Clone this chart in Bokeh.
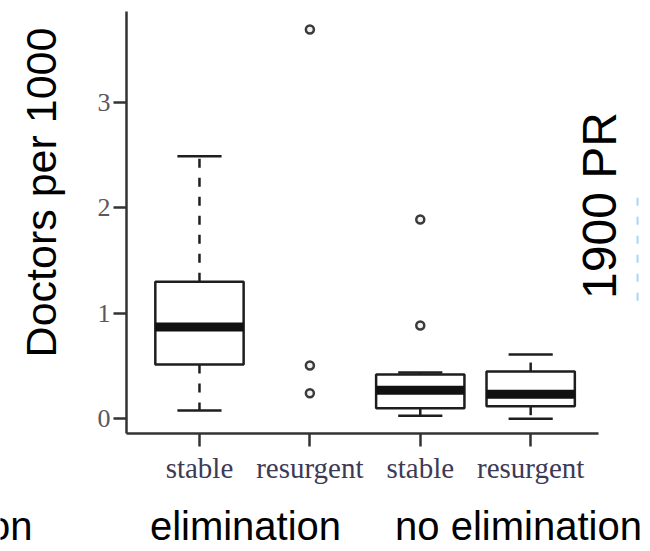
from bokeh.plotting import figure
from bokeh.models import Range1d, FixedTicker, Label, ColumnDataSource
from bokeh.embed import file_html
from bokeh.resources import INLINE

# ---------------- data ----------------
categories = ["stable", "resurgent", "stable", "resurgent"]
group_names = ["elimination", "no elimination"]
cut_label = "on"  # tail of a neighbouring panel's group label

# box statistics per category (None -> no box drawn for that category)
lower_whisker = [0.08, None, 0.03, 0.00]
q1 = [0.515, None, 0.10, 0.12]
median = [0.87, None, 0.27, 0.232]
q3 = [1.30, None, 0.42, 0.448]
upper_whisker = [2.49, None, 0.44, 0.61]

# outliers: category index (0-based) and value
outlier_cat = [1, 1, 1, 2, 2]
outlier_val = [3.69, 0.505, 0.243, 1.89, 0.885]

y_ticks = [0, 1, 2, 3]
y_label = "Doctors per 1000"
ref_label = "1900 PR"
ref_low, ref_high = 1.12, 2.16

# ---------------- layout / style ----------------
W, H = 650, 551
PXU_X, PXU_Y = 110.4, 105.5          # pixels per data unit
X_AXIS_START, X_AXIS_END = 0.339, 4.614
Y_AXIS_START, Y_AXIS_END = -0.139, 3.861
X0 = X_AXIS_START - 126 / PXU_X       # canvas left edge in data units
Y1 = Y_AXIS_END + 11 / PXU_Y          # canvas top edge in data units
BOX_W = 0.8
CAP_W = 0.4
REF_X = 4.968

pos = [i + 1 for i in range(len(categories))]
idx = [i for i in range(len(categories)) if q1[i] is not None]
bx = [pos[i] for i in idx]
box = ColumnDataSource(dict(
    x=bx,
    lw=[lower_whisker[i] for i in idx],
    q1=[q1[i] for i in idx],
    med=[median[i] for i in idx],
    q3=[q3[i] for i in idx],
    uw=[upper_whisker[i] for i in idx],
    xl=[x - BOX_W / 2 for x in bx],
    xr=[x + BOX_W / 2 for x in bx],
    cl=[x - CAP_W / 2 for x in bx],
    cr=[x + CAP_W / 2 for x in bx],
))
outl = ColumnDataSource(dict(x=[pos[c] for c in outlier_cat], y=outlier_val))

p = figure(width=W, height=H,
           x_range=Range1d(X0, X0 + W / PXU_X),
           y_range=Range1d(Y1 - H / PXU_Y, Y1),
           output_backend="svg", toolbar_location=None,
           min_border_left=0, min_border_right=0,
           min_border_top=0, min_border_bottom=0)
p.outline_line_color = None
p.grid.visible = False
p.background_fill_color = "white"
p.border_fill_color = "white"

ink = "#1e1e1e"
LW = 2.5
p.segment(x0="x", y0="q3", x1="x", y1="uw", source=box, line_color=ink,
          line_width=LW, line_dash="9 10")
p.segment(x0="x", y0="q1", x1="x", y1="lw", source=box, line_color=ink,
          line_width=LW, line_dash="9 10")
p.segment(x0="cl", y0="uw", x1="cr", y1="uw", source=box, line_color=ink, line_width=LW)
p.segment(x0="cl", y0="lw", x1="cr", y1="lw", source=box, line_color=ink, line_width=LW)
p.vbar(x="x", width=BOX_W, bottom="q1", top="q3", source=box,
       fill_color="white", line_color=ink, line_width=LW)
p.segment(x0="xl", y0="med", x1="xr", y1="med", source=box,
          line_color="#111111", line_width=9)
p.scatter(x="x", y="y", source=outl, marker="circle", size=8,
          line_color="#3a3a3a", line_width=2.5, fill_color="#f2f2f2")

p.segment(x0=[REF_X], y0=[ref_low], x1=[REF_X], y1=[ref_high],
          line_color="#a6d8f5", line_width=2, line_dash="8 11")

# axes, fixed at the box-plot area's edges
p.axis.axis_line_color = "#333333"
p.axis.axis_line_width = 2.5
p.axis.major_tick_line_color = "#333333"
p.axis.major_tick_line_width = 2.5
p.axis.major_tick_out = 13
p.axis.major_tick_in = 0
p.axis.minor_tick_line_color = None

xa = p.xaxis[0]
xa.fixed_location = Y_AXIS_START
xa.bounds = (X_AXIS_START, X_AXIS_END)
xa.ticker = FixedTicker(ticks=pos)
xa.major_label_overrides = {x: c for x, c in zip(pos, categories)}
xa.major_label_text_font = "Liberation Serif"
xa.major_label_text_font_size = "29px"
xa.major_label_text_color = "#3d3a55"
xa.major_label_standoff = 5

ya = p.yaxis[0]
ya.fixed_location = X_AXIS_START
ya.bounds = (Y_AXIS_START, Y_AXIS_END)
ya.ticker = FixedTicker(ticks=y_ticks)
ya.major_label_text_font = "Liberation Serif"
ya.major_label_text_font_size = "26px"
ya.major_label_text_color = "#5b5560"
ya.major_label_standoff = 3

sans = "Liberation Sans"


def lab(text, px, py, size, align="center", angle=0):
    return Label(x=px, y=H - py, x_units="screen", y_units="screen",
                 text=text, angle=angle, angle_units="deg",
                 text_align=align, text_baseline="middle",
                 text_font=sans, text_font_size=size, text_color="black")


p.add_layout(lab(y_label, 40, 192, "43px", angle=90))
p.add_layout(lab(ref_label, 599, 205, "48px", angle=90))
for txt, cx in zip(group_names, [245, 518]):
    p.add_layout(lab(txt, cx, 525, "40px"))
p.add_layout(lab(cut_label, 32, 525, "40px", align="right"))

open("out.html", "w").write(file_html(p, INLINE))
